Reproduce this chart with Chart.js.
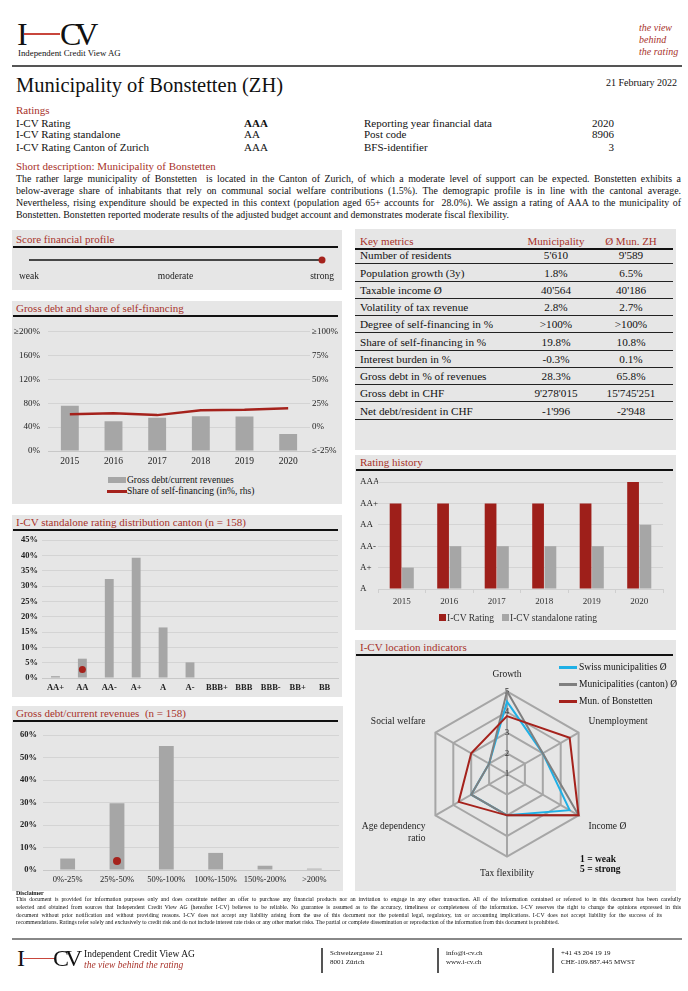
<!DOCTYPE html>
<html>
<head>
<meta charset="utf-8">
<title>Municipality of Bonstetten (ZH)</title>
<script src="https://cdn.jsdelivr.net/npm/chart.js@4.4.1/dist/chart.umd.min.js"></script>
<style>
  html, body { margin:0; padding:0; background:#fff; }
  body { width:688px; height:991px; position:relative; overflow:hidden; font-family:"Liberation Serif", "DejaVu Serif", serif; color:#111; }
  .t { position:absolute; white-space:nowrap; line-height:12px; }
  .red { color:#a8322a; }
  .panel { position:absolute; background:#e6e6e6; }
  .ptitle { position:absolute; font-size:11px; line-height:14px; color:#a8322a; white-space:nowrap; }
  .rule { position:absolute; background:#111; height:1.5px; }
  .box { position:absolute; }
  .just { text-align:justify; text-align-last:justify; }
  .sw { position:absolute; }
</style>
</head>
<body>

<!-- header -->
<div class="t" style="left:17px;top:18px;font-size:32px;line-height:32px;">I</div>
<div class="sw" style="left:24px;top:33px;width:36px;height:1.5px;background:#c8463c;"></div>
<div class="t" style="left:60px;top:18px;font-size:32px;line-height:32px;letter-spacing:-6px;">CV</div>
<div class="t" style="left:18px;top:47px;font-size:8.8px;">Independent Credit View AG</div>
<div class="t red" style="left:639px;top:22px;font-size:10px;font-style:italic;">the view</div>
<div class="t red" style="left:639px;top:34px;font-size:10px;font-style:italic;">behind</div>
<div class="t red" style="left:639px;top:46px;font-size:10px;font-style:italic;">the rating</div>
<div class="sw" style="left:12px;top:65px;width:670px;height:2px;background:#555;"></div>

<div class="t" style="left:16px;top:73px;font-size:20.5px;line-height:24px;">Municipality of Bonstetten (ZH)</div>
<div class="t" style="right:11px;top:77px;font-size:10px;">21 February 2022</div>

<div class="t red" style="left:16px;top:104px;font-size:11px;">Ratings</div>
<div class="t" style="left:16px;top:117px;font-size:11px;">I-CV Rating</div>
<div class="t" style="left:16px;top:128px;font-size:11px;">I-CV Rating standalone</div>
<div class="t" style="left:16px;top:141px;font-size:11px;">I-CV Rating Canton of Zurich</div>
<div class="t" style="left:244px;top:117px;font-size:11px;font-weight:bold;">AAA</div>
<div class="t" style="left:244px;top:128px;font-size:11px;">AA</div>
<div class="t" style="left:244px;top:141px;font-size:11px;">AAA</div>
<div class="t" style="left:364px;top:117px;font-size:11px;">Reporting year financial data</div>
<div class="t" style="left:364px;top:128px;font-size:11px;">Post code</div>
<div class="t" style="left:364px;top:141px;font-size:11px;">BFS-identifier</div>
<div class="t" style="right:74px;top:117px;font-size:11px;">2020</div>
<div class="t" style="right:74px;top:128px;font-size:11px;">8906</div>
<div class="t" style="right:74px;top:141px;font-size:11px;">3</div>

<div class="t red" style="left:16px;top:160px;font-size:11px;">Short description: Municipality of Bonstetten</div>
<div class="t just" style="left:16px;top:173px;width:665px;font-size:9.9px;">The rather large municipality of Bonstetten&nbsp; is located in the Canton of Zurich, of which a moderate level of support can be expected. Bonstetten exhibits a</div>
<div class="t just" style="left:16px;top:185px;width:665px;font-size:9.9px;">below-average share of inhabitants that rely on communal social welfare contributions (1.5%). The demograpic profile is in line with the cantonal average.</div>
<div class="t just" style="left:16px;top:197px;width:665px;font-size:9.9px;">Nevertheless, rising expenditure should be expected in this context (population aged 65+ accounts for&nbsp; 28.0%). We assign a rating of AAA to the municipality of</div>
<div class="t" style="left:16px;top:209px;font-size:9.9px;">Bonstetten. Bonstetten reported moderate results of the adjusted budget account and demonstrates moderate fiscal flexibility.</div>

<!-- panels -->
<div class="panel" style="left:12px;top:230px;width:330px;height:60px;"></div>
<div class="panel" style="left:12px;top:301px;width:330px;height:203px;"></div>
<div class="panel" style="left:12px;top:515px;width:330px;height:182px;"></div>
<div class="panel" style="left:12px;top:706px;width:331px;height:185px;"></div>
<div class="panel" style="left:355px;top:229px;width:321px;height:221px;"></div>
<div class="panel" style="left:355px;top:455px;width:321px;height:175px;"></div>
<div class="panel" style="left:355px;top:640px;width:321px;height:251px;"></div>

<div class="ptitle" style="left:16px;top:232px;">Score financial profile</div>
<div class="rule" style="left:13px;top:246px;width:325px;"></div>
<div class="ptitle" style="left:16px;top:301px;">Gross debt and share of self-financing</div>
<div class="rule" style="left:13px;top:315px;width:325px;"></div>
<div class="ptitle" style="left:16px;top:515px;">I-CV standalone rating distribution canton (n = 158)</div>
<div class="rule" style="left:13px;top:529px;width:325px;"></div>
<div class="ptitle" style="left:16px;top:706px;">Gross debt/current revenues&nbsp; (n = 158)</div>
<div class="rule" style="left:13px;top:720px;width:325px;"></div>
<div class="ptitle" style="left:360px;top:455px;">Rating history</div>
<div class="rule" style="left:356px;top:469px;width:317px;"></div>
<div class="ptitle" style="left:360px;top:640px;">I-CV location indicators</div>
<div class="rule" style="left:356px;top:654px;width:317px;"></div>

<div id="metrics"></div>

<!-- charts -->
<div class="box" style="left:12px;top:250px;width:330px;height:40px;"><canvas id="scoreChart"></canvas></div>
<div class="box" style="left:12px;top:318px;width:330px;height:152px;"><canvas id="debtChart"></canvas></div>
<div class="box" style="left:12px;top:531px;width:330px;height:167px;"><canvas id="distChart"></canvas></div>
<div class="box" style="left:12px;top:724px;width:331px;height:166px;"><canvas id="binChart"></canvas></div>
<div class="box" style="left:355px;top:472px;width:321px;height:138px;"><canvas id="historyChart"></canvas></div>
<div class="box" style="left:355px;top:660px;width:321px;height:228px;"><canvas id="radarChart"></canvas></div>

<!-- legends -->
<div class="sw" style="left:108px;top:477px;width:18px;height:6px;background:#a6a6a6;"></div>
<div class="t" style="left:127px;top:474px;font-size:9.5px;">Gross debt/current revenues</div>
<div class="sw" style="left:107px;top:490px;width:20px;height:2.5px;background:#a5221c;"></div>
<div class="t" style="left:127px;top:485px;font-size:9.5px;">Share of self-financing (in%, rhs)</div>

<div class="sw" style="left:439px;top:614px;width:7px;height:7px;background:#9e1f1a;"></div>
<div class="t" style="left:447px;top:612px;font-size:9.5px;color:#333;">I-CV Rating</div>
<div class="sw" style="left:502px;top:614px;width:7px;height:7px;background:#a6a6a6;"></div>
<div class="t" style="left:510px;top:612px;font-size:9.5px;color:#333;">I-CV standalone rating</div>

<div class="sw" style="left:559px;top:666px;width:18px;height:2.5px;background:#1fb0e6;"></div>
<div class="t" style="left:579px;top:661px;font-size:9.5px;">Swiss municipalities Ø</div>
<div class="sw" style="left:559px;top:683px;width:18px;height:2.5px;background:#7f7f7f;"></div>
<div class="t" style="left:579px;top:678px;font-size:9.5px;">Municipalities (canton) Ø</div>
<div class="sw" style="left:559px;top:700px;width:18px;height:2.5px;background:#a5221c;"></div>
<div class="t" style="left:579px;top:695px;font-size:9.5px;">Mun. of Bonstetten</div>
<div class="t" style="left:580px;top:853px;font-size:9.5px;font-weight:bold;">1 = weak</div>
<div class="t" style="left:580px;top:863px;font-size:9.5px;font-weight:bold;">5 = strong</div>

<!-- disclaimer -->
<div class="t" style="left:16px;top:889px;font-size:6px;line-height:8px;font-weight:bold;">Disclaimer</div>
<div class="t just" style="left:16px;top:895px;width:665px;font-size:5.7px;line-height:8px;">This document is provided for information purposes only and does constitute neither an offer to purchase any financial products nor an invitation to engage in any other transaction. All of the information contained or referred to in this document has been carefully</div>
<div class="t just" style="left:16px;top:903px;width:665px;font-size:5.7px;line-height:8px;">selected and obtained from sources that Independent Credit View AG (hereafter I-CV) believes to be reliable. No guarantee is assumed as to the accuracy, timeliness or completeness of the information. I-CV reserves the right to change the opinions expressed in this</div>
<div class="t just" style="left:16px;top:911px;width:646px;font-size:5.7px;line-height:8px;">document without prior notification and without providing reasons. I-CV does not accept any liability arising from the use of this document nor the potential legal, regulatory, tax or accounting implications. I-CV does not accept liability for the success of its</div>
<div class="t" style="left:16px;top:918px;font-size:5.7px;line-height:8px;">recommendations. Ratings refer solely and exclusively to credit risk and do not include interest rate risks or any other market risks. The partial or complete dissemination or reproduction of the information from this document is prohibited.</div>

<!-- footer -->
<div class="sw" style="left:12px;top:938px;width:670px;height:2px;background:#888;"></div>
<div class="t" style="left:17px;top:946px;font-size:24px;line-height:24px;">I</div>
<div class="sw" style="left:23px;top:958px;width:31px;height:1.2px;background:#c8463c;"></div>
<div class="t" style="left:53px;top:946px;font-size:24px;line-height:24px;letter-spacing:-4px;">CV</div>
<div class="t" style="left:84px;top:948px;font-size:9.5px;">Independent Credit View AG</div>
<div class="t red" style="left:84px;top:959px;font-size:9.5px;font-style:italic;">the view behind the rating</div>
<div class="sw" style="left:321px;top:948px;width:1.5px;height:25px;background:#555;"></div>
<div class="sw" style="left:437px;top:948px;width:1.5px;height:25px;background:#555;"></div>
<div class="sw" style="left:552px;top:948px;width:1.5px;height:25px;background:#555;"></div>
<div class="t" style="left:330px;top:947px;font-size:7px;">Schweizergasse 21</div>
<div class="t" style="left:330px;top:956px;font-size:7px;">8001 Zürich</div>
<div class="t" style="left:446px;top:947px;font-size:7px;">info@i-cv.ch</div>
<div class="t" style="left:446px;top:956px;font-size:7px;">www.i-cv.ch</div>
<div class="t" style="left:561px;top:947px;font-size:7px;">+41 43 204 19 19</div>
<div class="t" style="left:561px;top:956px;font-size:7px;">CHE-109.887.445 MWST</div>

<script>
// data
const scoreLabels = ['weak', 'moderate', 'strong'];
const scoreValue = 2;

const years = ['2015', '2016', '2017', '2018', '2019', '2020'];
const grossDebtPct = [75.7, 49.6, 55.5, 58.0, 57.6, 28.3];
const selfFinShare = [13.5, 14.5, 12.5, 17.5, 18.0, 19.8];

const ratingScale = ['A', 'A+', 'AA-', 'AA', 'AA+', 'AAA'];
const icvRating = [4, 4, 4, 4, 4, 5];
const standaloneRating = [1, 2, 2, 2, 2, 3];

const distRatings = ['AA+', 'AA', 'AA-', 'A+', 'A', 'A-', 'BBB+', 'BBB', 'BBB-', 'BB+', 'BB'];
const distShare = [0.6, 6.3, 32.3, 39.2, 16.5, 5.1, 0, 0, 0, 0, 0];
const distOwn = [null, 2.8, null, null, null, null, null, null, null, null, null];

const debtBins = ['0%-25%', '25%-50%', '50%-100%', '100%-150%', '150%-200%', '>200%'];
const debtShare = [5.1, 29.7, 55.1, 7.6, 1.9, 0.6];
const debtOwn = [null, 4.0, null, null, null, null];

const radarAxes = ['Growth', 'Unemployment', 'Income Ø', 'Tax flexibility', ['Age dependency', 'ratio'], 'Social welfare'];
const swissAvg = [4.5, 3, 4.5, 3, 3, 2];
const cantonAvg = [5, 3, 5, 3, 3, 2];
const bonstetten = [3.8, 4.5, 5, 3, 3.7, 3];

const metricLabels = ['Number of residents', 'Population growth (3y)', 'Taxable income Ø', 'Volatility of tax revenue',
  'Degree of self-financing in %', 'Share of self-financing in %', 'Interest burden in %',
  'Gross debt in % of revenues', 'Gross debt in CHF', 'Net debt/resident in CHF'];
const munValues = ["5'610", '1.8%', "40'564", '2.8%', '>100%', '19.8%', '-0.3%', '28.3%', "9'278'015", "-1'996"];
const zhValues = ["9'589", '6.5%', "40'186", '2.7%', '>100%', '10.8%', '0.1%', '65.8%', "15'745'251", "-2'948"];

const RED = '#a5221c';
const BAR_RED = '#9e1f1a';
const GRAY = '#a6a6a6';
const GRID = '#d4d4d4';

// key metrics table
const m = document.getElementById('metrics');
let html = '';
html += '<div class="t red" style="left:360px;top:235px;font-size:11px;">Key metrics</div>';
html += '<div class="t red" style="left:516px;width:80px;text-align:center;top:235px;font-size:11px;">Municipality</div>';
html += '<div class="t red" style="left:591px;width:80px;text-align:center;top:235px;font-size:11px;">Ø Mun. ZH</div>';
html += '<div class="sw" style="left:355px;top:248px;width:318px;height:1.5px;background:#111;"></div>';
metricLabels.forEach((lab, i) => {
  const mid = 255.3 + 17.27 * i;
  html += '<div class="t" style="left:360px;top:' + (mid - 6) + 'px;font-size:11.2px;">' + lab + '</div>';
  html += '<div class="t" style="left:516px;width:80px;text-align:center;top:' + (mid - 6) + 'px;font-size:11.2px;">' + munValues[i] + '</div>';
  html += '<div class="t" style="left:591px;width:80px;text-align:center;top:' + (mid - 6) + 'px;font-size:11.2px;">' + zhValues[i] + '</div>';
  html += '<div class="sw" style="left:355px;top:' + (mid + 8) + 'px;width:318px;height:1px;background:#222;"></div>';
});
m.innerHTML = html;

Chart.defaults.font.family = '"Liberation Serif", serif';
Chart.defaults.color = '#222';
Chart.defaults.animation = false;
Chart.defaults.responsive = true;
Chart.defaults.maintainAspectRatio = false;
Chart.defaults.plugins.legend.display = false;
Chart.defaults.plugins.tooltip.enabled = false;

// score line
new Chart(document.getElementById('scoreChart'), {
  type: 'scatter',
  data: {
    datasets: [
      { data: [{ x: 0, y: 0 }, { x: scoreLabels.length - 1, y: 0 }], showLine: true, borderColor: '#111', borderWidth: 1.5, pointRadius: 0, order: 1 },
      { data: [{ x: scoreValue, y: 0 }], pointRadius: 3.5, pointBackgroundColor: RED, pointBorderWidth: 0, order: 0, clip: false }
    ]
  },
  options: {
    layout: { padding: { left: 17, right: 20, top: 5, bottom: 0 } },
    scales: {
      x: {
        min: 0, max: scoreLabels.length - 1,
        ticks: { stepSize: 1, padding: 6, font: { size: 9.5 }, callback: v => scoreLabels[v] },
        grid: { display: false, drawTicks: false }, border: { display: false },
        afterFit: s => { s.height = 25; }
      },
      y: { display: false, min: -1, max: 1 }
    }
  }
});

// gross debt and share of self-financing
new Chart(document.getElementById('debtChart'), {
  type: 'bar',
  data: {
    labels: years,
    datasets: [
      { type: 'line', label: 'Share of self-financing (in%, rhs)', data: selfFinShare, yAxisID: 'y1', borderColor: RED, borderWidth: 2.5, pointRadius: 0, tension: 0, order: 0 },
      { type: 'bar', label: 'Gross debt/current revenues', data: grossDebtPct, yAxisID: 'y', backgroundColor: GRAY, barPercentage: 0.41, categoryPercentage: 1, order: 1 }
    ]
  },
  options: {
    layout: { padding: { top: 9, left: 0, right: 0, bottom: 0 } },
    scales: {
      x: {
        grid: { display: false, drawTicks: false }, border: { color: '#c8c8c8' },
        ticks: { padding: 5, font: { size: 9.5 } },
        afterFit: s => { s.height = 19; }
      },
      y: {
        position: 'left', min: 0, max: 200,
        ticks: { stepSize: 40, padding: 8, font: { size: 9 }, callback: v => (v === 200 ? '≥200%' : v + '%') },
        grid: { color: GRID, drawTicks: false }, border: { display: false },
        afterFit: s => { s.width = 36; }
      },
      y1: {
        position: 'right', min: -25, max: 100,
        ticks: { stepSize: 25, padding: 2, font: { size: 9 }, callback: v => (v === 100 ? '≥100%' : v === -25 ? '≤-25%' : v + '%') },
        grid: { display: false, drawTicks: false }, border: { display: false },
        afterFit: s => { s.width = 32; }
      }
    }
  }
});

// standalone rating distribution
new Chart(document.getElementById('distChart'), {
  type: 'bar',
  data: {
    labels: distRatings,
    datasets: [
      { type: 'line', data: distOwn, showLine: false, pointRadius: 3.5, pointBackgroundColor: RED, pointBorderWidth: 0, order: 0 },
      { type: 'bar', data: distShare, backgroundColor: GRAY, barPercentage: 0.33, categoryPercentage: 1, order: 1 }
    ]
  },
  options: {
    layout: { padding: { top: 8, left: 0, right: 2, bottom: 0 } },
    scales: {
      x: {
        grid: { display: false, drawTicks: false }, border: { color: '#c8c8c8' },
        ticks: { padding: 5, font: { size: 8.5, weight: 'bold' }, maxRotation: 0, autoSkip: false },
        afterFit: s => { s.height = 20; }
      },
      y: {
        min: 0, max: 45,
        ticks: { stepSize: 5, padding: 4, font: { size: 8.5, weight: 'bold' }, callback: v => v + '%' },
        grid: { color: GRID, drawTicks: false }, border: { display: false },
        afterFit: s => { s.width = 30; }
      }
    }
  }
});

// gross debt / current revenues
new Chart(document.getElementById('binChart'), {
  type: 'bar',
  data: {
    labels: debtBins,
    datasets: [
      { type: 'line', data: debtOwn, showLine: false, pointRadius: 4, pointBackgroundColor: RED, pointBorderWidth: 0, order: 0 },
      { type: 'bar', data: debtShare, backgroundColor: GRAY, barPercentage: 0.30, categoryPercentage: 1, order: 1 }
    ]
  },
  options: {
    layout: { padding: { top: 8, left: 0, right: 1, bottom: 0 } },
    scales: {
      x: {
        grid: { display: false, drawTicks: false }, border: { color: '#c8c8c8' },
        ticks: { padding: 5, font: { size: 8.5 }, maxRotation: 0, autoSkip: false },
        afterFit: s => { s.height = 20; }
      },
      y: {
        min: 0, max: 60,
        ticks: { stepSize: 10, padding: 6, font: { size: 8.5, weight: 'bold' }, callback: v => v + '%' },
        grid: { color: GRID, drawTicks: false }, border: { display: false },
        afterFit: s => { s.width = 31; }
      }
    }
  }
});

// rating history
new Chart(document.getElementById('historyChart'), {
  type: 'bar',
  data: {
    labels: years,
    datasets: [
      { label: 'I-CV Rating', data: icvRating, backgroundColor: BAR_RED, barPercentage: 0.95, categoryPercentage: 0.52 },
      { label: 'I-CV standalone rating', data: standaloneRating, backgroundColor: GRAY, barPercentage: 0.95, categoryPercentage: 0.52 }
    ]
  },
  options: {
    layout: { padding: { top: 10, left: 5, right: 13, bottom: 0 } },
    scales: {
      x: {
        grid: { drawOnChartArea: false, color: '#cfcfcf', tickLength: 4 }, border: { color: '#cfcfcf' },
        ticks: { padding: 3, font: { size: 9 }, color: '#333' },
        afterFit: s => { s.height = 21; }
      },
      y: {
        min: 0, max: ratingScale.length - 1,
        ticks: { stepSize: 1, crossAlign: 'far', font: { size: 9 }, callback: v => ratingScale[v] },
        grid: { color: GRID, drawTicks: false }, border: { display: false },
        afterFit: s => { s.width = 18; }
      }
    }
  }
});

// location indicators
const centerTick = {
  id: 'centerTick',
  afterDraw(chart) {
    const s = chart.scales.r;
    const c = chart.ctx;
    c.save();
    c.font = '9px "Liberation Serif"';
    c.fillStyle = '#333';
    c.textAlign = 'center';
    c.textBaseline = 'middle';
    c.fillText(String(s.min), s.xCenter, s.yCenter);
    c.restore();
  }
};

new Chart(document.getElementById('radarChart'), {
  type: 'radar',
  data: {
    labels: radarAxes,
    datasets: [
      { label: 'Swiss municipalities Ø', data: swissAvg, borderColor: '#1fb0e6', borderWidth: 2, pointRadius: 0, fill: false, order: 2 },
      { label: 'Municipalities (canton) Ø', data: cantonAvg, borderColor: '#7f7f7f', borderWidth: 2, pointRadius: 0, fill: false, order: 1 },
      { label: 'Mun. of Bonstetten', data: bonstetten, borderColor: RED, borderWidth: 2, pointRadius: 0, fill: false, order: 0 }
    ]
  },
  options: {
    layout: { padding: { top: 8, left: 4, right: 25, bottom: 6 } },
    scales: {
      r: {
        min: 1, max: 5,
        ticks: { stepSize: 1, showLabelBackdrop: false, font: { size: 9 }, color: '#333' },
        grid: { color: GRAY, lineWidth: 2 },
        angleLines: { color: GRAY, lineWidth: 2 },
        pointLabels: { font: { size: 9.5 }, color: '#222', padding: 5 }
      }
    }
  },
  plugins: [centerTick]
});
</script>
</body>
</html>
